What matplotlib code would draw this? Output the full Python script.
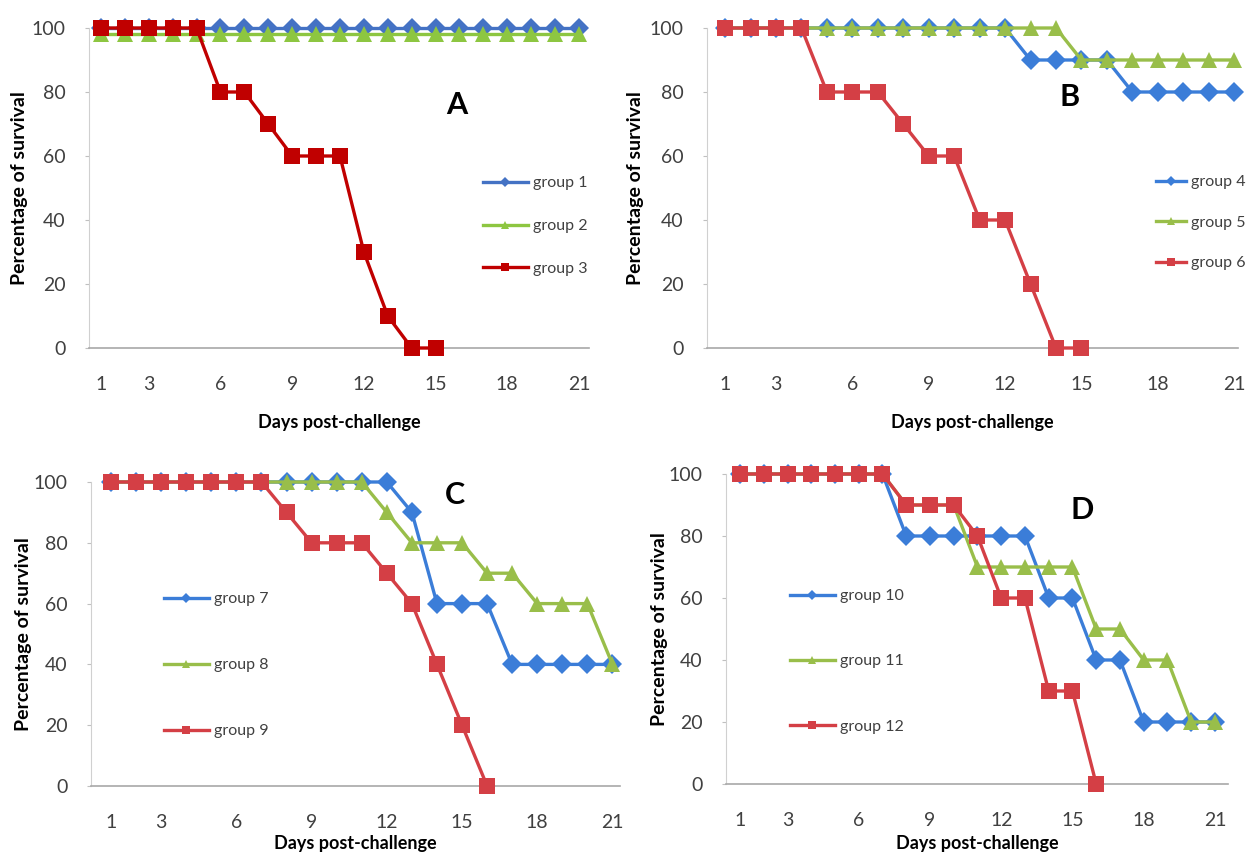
import matplotlib
matplotlib.use('Agg')
import matplotlib.pyplot as plt
from matplotlib.lines import Line2D

plt.rcParams['font.family'] = ['Liberation Sans Narrow', 'Lato', 'DejaVu Sans']

# data (percentage of survival per day post-challenge)
days = list(range(1, 22))
tick_days = [1, 3, 6, 9, 12, 15, 18, 21]
y_ticks = [0, 20, 40, 60, 80, 100]

group1 = [100] * 21
group2 = [98] * 21
group3 = [100, 100, 100, 100, 100, 80, 80, 70, 60, 60, 60, 30, 10, 0, 0]

group4 = [100] * 12 + [90, 90, 90, 90, 80, 80, 80, 80, 80]
group5 = [100] * 14 + [90, 90, 90, 90, 90, 90, 90]
group6 = [100, 100, 100, 100, 80, 80, 80, 70, 60, 60, 40, 40, 20, 0, 0]

group7 = [100] * 12 + [90, 60, 60, 60, 40, 40, 40, 40, 40]
group8 = [100] * 11 + [90, 80, 80, 80, 70, 70, 60, 60, 60, 40]
group9 = [100] * 7 + [90, 80, 80, 80, 70, 60, 40, 20, 0]

group10 = [100] * 7 + [80, 80, 80, 80, 80, 80, 60, 60, 40, 40, 20, 20, 20, 20]
group11 = [100] * 7 + [90, 90, 90, 70, 70, 70, 70, 70, 50, 50, 40, 40, 20, 20]
group12 = [100] * 7 + [90, 90, 90, 80, 60, 60, 30, 30, 0]

W, H = 1247, 860
fig = plt.figure(figsize=(W / 100, H / 100), dpi=100)


def px_axes(left, right, top, bottom):
    return fig.add_axes([left / W, 1 - bottom / H, (right - left) / W, (bottom - top) / H])


# panel settings: axes box in pixels, xlim, letter position, legend anchor, ylabel x
panels = [
    dict(box=(89, 589, 28, 348), xlim=(0.5, 21.42), letter='A', letter_xy=(457, 105),
         leg=(483, 176), hlen=2.8, lspace=1.8, ylab_x=28, xlab_y=414,
         series=[(group1, 'group 1', '#4472C4', 'D'), (group2, 'group 2', '#8DC641', '^'),
                 (group3, 'group 3', '#C00000', 's')]),
    dict(box=(707, 1238, 28, 348), xlim=(0.29, 21.15), letter='B', letter_xy=(1070, 97),
         leg=(1156, 175), hlen=1.9, lspace=1.65, ylab_x=644, xlab_y=414,
         series=[(group4, 'group 4', '#3B7DD8', 'D'), (group5, 'group 5', '#99BE4A', '^'),
                 (group6, 'group 6', '#D43F45', 's')]),
    dict(box=(91, 620, 482, 786), xlim=(0.2, 21.3), letter='C', letter_xy=(455, 495),
         leg=(164, 592), hlen=2.8, lspace=3.25, ylab_x=32, xlab_y=835,
         series=[(group7, 'group 7', '#3B7DD8', 'D'), (group8, 'group 8', '#99BE4A', '^'),
                 (group9, 'group 9', '#D43F45', 's')]),
    dict(box=(726, 1228, 474, 784), xlim=(0.41, 21.55), letter='D', letter_xy=(1082, 510),
         leg=(790, 589), hlen=2.8, lspace=3.2, ylab_x=668, xlab_y=835,
         series=[(group10, 'group 10', '#3B7DD8', 'D'), (group11, 'group 11', '#99BE4A', '^'),
                 (group12, 'group 12', '#D43F45', 's')]),
]

for p in panels:
    left, right, top, bottom = p['box']
    ax = px_axes(left, right, top, bottom)
    handles = []
    for vals, label, color, marker in p['series']:
        ms = {'s': 11.5, 'D': 10, '^': 12}[marker]
        ax.plot(days[:len(vals)], vals, color=color, lw=2.4, marker=marker,
                markersize=ms, markeredgewidth=0, clip_on=False, zorder=3)
        handles.append(Line2D([], [], color=color, lw=2.4, marker=marker,
                              markersize=ms * 0.5, markeredgewidth=0))

    ax.set_xlim(*p['xlim'])
    ax.set_ylim(0, 100)
    ax.set_xticks(tick_days)
    ax.set_yticks(y_ticks)
    for s in ['top', 'right']:
        ax.spines[s].set_visible(False)
    ax.spines['left'].set_color('#D0D0D0')
    ax.spines['bottom'].set_color('#A8A8A8')
    ax.spines['bottom'].set_linewidth(1.2)
    ax.tick_params(axis='x', length=0, pad=20, labelsize=14, labelcolor='#404040')
    ax.tick_params(axis='y', length=3, color='#C0C0C0', pad=14, labelsize=14, labelcolor='#404040')

    ax.set_ylabel('Percentage of survival', family=['Lato', 'DejaVu Sans'],
                  fontweight='bold', fontsize=14)
    ax.yaxis.set_label_coords((p['ylab_x'] - left) / (right - left), 0.5)
    ax.set_xlabel('Days post-challenge', family=['Lato', 'DejaVu Sans'],
                  fontweight='bold', fontsize=13)
    ax.xaxis.set_label_coords(0.5, (bottom - p['xlab_y']) / (bottom - top))

    lx, ly = p['letter_xy']
    fig.text(lx / W, 1 - ly / H, p['letter'], family=['Lato', 'DejaVu Sans'],
             fontweight='bold', fontsize=22, ha='center', va='center')

    gx, gy = p['leg']
    fig.legend(handles=handles, labels=[s[1] for s in p['series']],
               loc='upper left', bbox_to_anchor=(gx / W, 1 - gy / H),
               frameon=False, fontsize=11.5, handlelength=p['hlen'], handletextpad=0.3,
               labelspacing=p['lspace'], borderpad=0, borderaxespad=0, labelcolor='#404040')

fig.savefig('out.png', dpi=100, facecolor='white')
